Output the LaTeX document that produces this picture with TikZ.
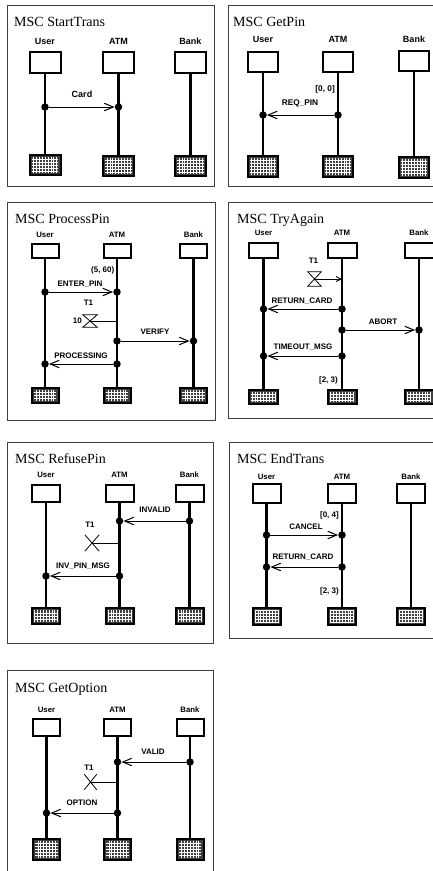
\documentclass[tikz,border=0pt]{standalone}
\usepackage{fontspec}
\setmainfont{Liberation Serif}
\setsansfont{Liberation Sans}
\usetikzlibrary{arrows.meta}
\def\bw{30}
\def\lsize{8}
\def\msize{8}
\tikzset{
  frame/.style={draw=black!75, line width=0.9pt},
  mtitle/.style={anchor=base west, inner sep=0, font=\fontsize{14}{16}\selectfont},
  llabel/.style={font=\sffamily\bfseries\fontsize{\lsize}{\lsize}\selectfont, inner sep=0},
  mlabel/.style={font=\sffamily\bfseries\fontsize{\msize}{\msize}\selectfont, inner sep=0},
  headbox/.style={draw, fill=white, line width=2pt, minimum width=\bw pt, inner sep=0, anchor=north},
  endbox/.style={draw, fill=black!75, line width=2pt, minimum width=\bw pt, inner sep=0, anchor=north,
    path picture={\draw[white, line width=0.6pt]
      ([shift={(2.4pt,-2.4pt)}]path picture bounding box.north west) grid[step=2.9pt]
      ([shift={(-2.4pt,2.4pt)}]path picture bounding box.south east);}},
  life/.style={line width=2.4pt},
  dot/.style={circle, fill=black, inner sep=0, minimum size=7.5pt},
  msg/.style={line width=1pt, -{Straight Barb[length=9pt,width=7.5pt,line width=1pt]}},
  tline/.style={line width=1pt},
  tarrow/.style={line width=1pt, -{Straight Barb[length=5pt,width=5pt,line width=0.9pt]}},
  timer/.style={line width=0.8pt},
  tbox/.style={inner sep=0, draw=none},
}
% name, x, label y, head top, head height, end top, end height, label
\newcommand\lifeline[8]{%
  \node[llabel] (#1l) at (#2,#3) {#8};
  \node[headbox, minimum height=#5pt] (#1h) at (#2,#4) {};
  \node[endbox, minimum height=#7pt] (#1e) at (#2,#6) {};
  \draw[life] (#1h) -- (#1e);
}
% name, x, y, width, height
\newcommand\hourglass[5]{%
  \node[tbox, minimum width=#4pt, minimum height=#5pt] (#1) at (#2,#3) {};
  \draw[timer] (#1.north west) -- (#1.north east) -- (#1.south west) -- (#1.south east) -- cycle;
}
\newcommand\timerstop[5]{%
  \node[tbox, minimum width=#4pt, minimum height=#5pt] (#1) at (#2,#3) {};
  \draw[timer] (#1.north west) -- (#1.south east) (#1.north east) -- (#1.south west);
}
\begin{document}
\begin{tikzpicture}[x=1pt, y=-1pt]
\clip (0,0) rectangle (433,871);
\fill[white] (0,0) rectangle (433,871);

% ---------------- StartTrans
\draw[frame] (7,5) rectangle (214,186);
\node[mtitle] (a0) at (14,26) {MSC StartTrans};
\def\bw{31}\def\lsize{9}\def\msize{9}
\lifeline{aU}{45}{41}{51}{21}{154}{20}{User}
\lifeline{aA}{118.5}{41}{51}{21}{155}{20}{ATM}
\lifeline{aB}{190.5}{41}{51}{21}{155}{20}{Bank}
\node[dot] (a1s) at (45,107) {};
\node[dot] (a1r) at (118.5,107) {};
\draw[msg] (a1s) -- (a1r);
\node[mlabel] (a1l) at (82,94) {Card};

% ---------------- GetPin
\draw[frame] (228,5) rectangle (450,186);
\node[mtitle] (b0) at (233,26) {MSC GetPin};
\def\bw{30}\def\lsize{9}\def\msize{8.3}
\lifeline{bU}{263}{39}{51}{20}{155}{21}{User}
\lifeline{bA}{338}{39}{51}{20}{155}{21}{ATM}
\lifeline{bB}{414}{39}{50}{20}{156}{21}{Bank}
\node[dot] (b1s) at (338,115) {};
\node[dot] (b1r) at (263,115) {};
\draw[msg] (b1s) -- (b1r);
\node[mlabel] (b1l) at (300,103) {REQ\_PIN};
\node[mlabel, anchor=east] (b2) at (335,89) {[0, 0]};

% ---------------- ProcessPin
\draw[frame] (7,202) rectangle (215,420);
\node[mtitle] (c0) at (15,223) {MSC ProcessPin};
\def\bw{27}\def\lsize{7.8}\def\msize{8}
\lifeline{cU}{45}{235}{243}{14}{387}{15}{User}
\lifeline{cA}{117}{235}{243}{14}{387}{15}{ATM}
\lifeline{cB}{193.5}{235}{243}{14}{387}{15}{Bank}
\node[mlabel, anchor=east] (c2) at (114.5,270) {(5, 60)};
\node[dot] (c1s) at (45,292) {};
\node[dot] (c1r) at (117,292) {};
\draw[msg] (c1s) -- (c1r);
\node[mlabel] (c1l) at (80,284) {ENTER\_PIN};
\node[mlabel] (c3l) at (88.5,303) {T1};
\hourglass{ct}{90}{321}{14}{12}
\node[mlabel, anchor=east] (c3n) at (82,321) {10};
\coordinate (ctA) at (117,321);
\draw[tline] (ct.center) -- (ctA);
\node[dot] (c4s) at (117,341) {};
\node[dot] (c4r) at (193.5,341) {};
\draw[msg] (c4s) -- (c4r);
\node[mlabel] (c4l) at (155,332) {VERIFY};
\node[dot] (c5s) at (117,364) {};
\node[dot] (c5r) at (45,364) {};
\draw[msg] (c5s) -- (c5r);
\node[mlabel] (c5l) at (81,356) {PROCESSING};

% ---------------- TryAgain
\draw[frame] (228,202) rectangle (450,418);
\node[mtitle] (d0) at (237,223) {MSC TryAgain};
\def\bw{29}
\lifeline{dU}{263.5}{233}{242}{15}{389}{14}{User}
\lifeline{dA}{342}{233}{242}{15}{389}{14}{ATM}
\lifeline{dB}{419}{233}{242}{15}{389}{14}{Bank}
\node[mlabel] (d1l) at (313.5,261) {T1};
\hourglass{dt}{314.5}{279}{13}{14}
\coordinate (dtA) at (342,279);
\draw[tarrow] (dt.center) -- (dtA);
\node[dot] (d2s) at (342,309) {};
\node[dot] (d2r) at (263.5,309) {};
\draw[msg] (d2s) -- (d2r);
\node[mlabel] (d2l) at (302,301) {RETURN\_CARD};
\node[dot] (d3s) at (342,330) {};
\node[dot] (d3r) at (419,330) {};
\draw[msg] (d3s) -- (d3r);
\node[mlabel] (d3l) at (383,322) {ABORT};
\node[dot] (d4s) at (342,356) {};
\node[dot] (d4r) at (263.5,356) {};
\draw[msg] (d4s) -- (d4r);
\node[mlabel] (d4l) at (303,347) {TIMEOUT\_MSG};
\node[mlabel, anchor=east] (d5) at (338,380) {[2, 3)};

% ---------------- RefusePin
\draw[frame] (7,442) rectangle (213,643);
\node[mtitle] (e0) at (15,463) {MSC RefusePin};
\def\bw{28}
\lifeline{eU}{46}{475}{484}{17}{607}{16}{User}
\lifeline{eA}{119.5}{475}{484}{17}{607}{16}{ATM}
\lifeline{eB}{189.5}{475}{484}{17}{607}{16}{Bank}
\node[dot] (e1s) at (189.5,521) {};
\node[dot] (e1r) at (119.5,521) {};
\draw[msg] (e1s) -- (e1r);
\node[mlabel] (e1l) at (155,510) {INVALID};
\node[mlabel] (e2l) at (90,524.5) {T1};
\timerstop{et}{92}{543}{14}{16}
\coordinate (etA) at (119.5,543);
\draw[tline] (et.center) -- (etA);
\node[dot] (e3s) at (119.5,576) {};
\node[dot] (e3r) at (46,576) {};
\draw[msg] (e3s) -- (e3r);
\node[mlabel] (e3l) at (83,566) {INV\_PIN\_MSG};

% ---------------- EndTrans
\draw[frame] (229,442) rectangle (450,638);
\node[mtitle] (f0) at (237,463) {MSC EndTrans};
\def\bw{28}
\lifeline{fU}{266.5}{477}{483}{19}{607}{17}{User}
\lifeline{fA}{342}{477}{483}{19}{607}{17}{ATM}
\lifeline{fB}{411}{477}{483}{19}{607}{17}{Bank}
\node[mlabel, anchor=east] (f0n) at (339,515) {[0, 4]};
\node[dot] (f1s) at (266.5,535) {};
\node[dot] (f1r) at (342,535) {};
\draw[msg] (f1s) -- (f1r);
\node[mlabel] (f1l) at (306,527) {CANCEL};
\node[dot] (f2s) at (342,567) {};
\node[dot] (f2r) at (266.5,567) {};
\draw[msg] (f2s) -- (f2r);
\node[mlabel] (f2l) at (303,557) {RETURN\_CARD};
\node[mlabel, anchor=east] (f3n) at (339,591) {[2, 3)};

% ---------------- GetOption
\draw[frame] (7,670) rectangle (213,890);
\node[mtitle] (g0) at (15,692) {MSC GetOption};
\def\bw{27}
\lifeline{gU}{46.5}{710}{718}{17}{838}{21}{User}
\lifeline{gA}{117.5}{710}{718}{17}{838}{21}{ATM}
\lifeline{gB}{190}{710}{718}{17}{838}{21}{Bank}
\node[dot] (g1s) at (190,762) {};
\node[dot] (g1r) at (117.5,762) {};
\draw[msg] (g1s) -- (g1r);
\node[mlabel] (g1l) at (153,752) {VALID};
\node[mlabel] (g2l) at (89,768) {T1};
\timerstop{gt}{90.5}{782}{12}{15}
\coordinate (gtA) at (117.5,782);
\draw[tline] (gt.center) -- (gtA);
\node[dot] (g3s) at (117.5,813) {};
\node[dot] (g3r) at (46.5,813) {};
\draw[msg] (g3s) -- (g3r);
\node[mlabel] (g3l) at (82,803) {OPTION};
\end{tikzpicture}
\end{document}
